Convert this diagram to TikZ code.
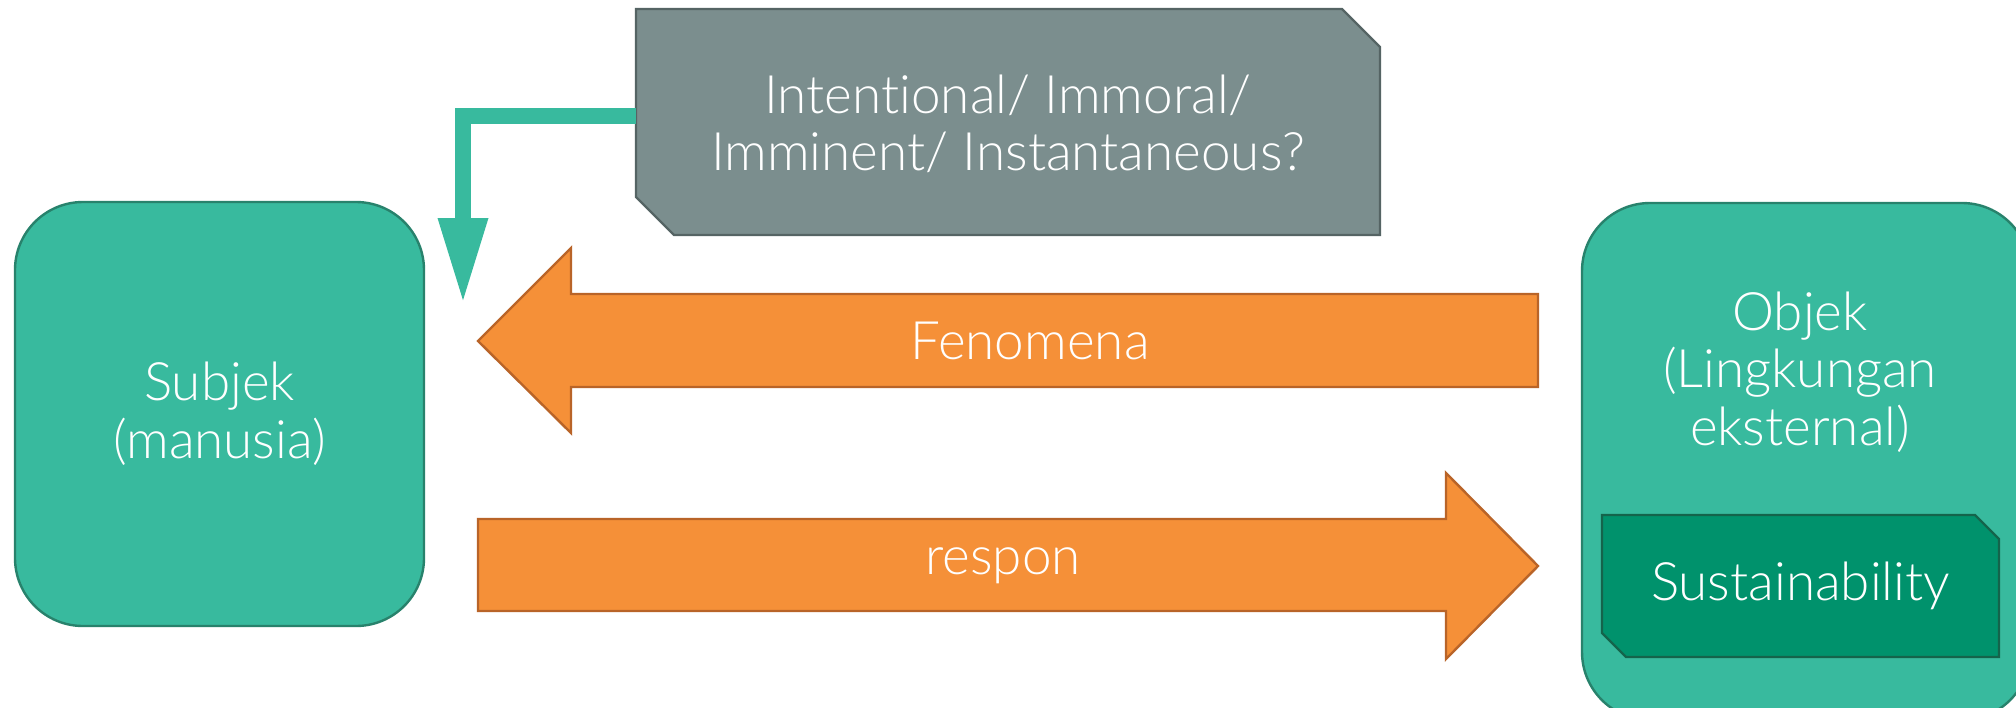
\documentclass[tikz,border=0pt]{standalone}
\usepackage{fontspec}
\setmainfont{Lato}[UprightFont=* Light, Ligatures=NoCommon]
\usetikzlibrary{arrows.meta}
\definecolor{tealF}{RGB}{56,186,158}
\definecolor{tealD}{RGB}{40,130,108}
\definecolor{grF}{RGB}{123,142,142}
\definecolor{grD}{RGB}{85,100,100}
\definecolor{orF}{RGB}{245,144,56}
\definecolor{orD}{RGB}{185,100,40}
\definecolor{susF}{RGB}{0,146,108}
\definecolor{susD}{RGB}{20,100,75}
\begin{document}
\begin{tikzpicture}[x=0.5pt,y=-0.5pt,
  txt/.style={text=white, font=\fontsize{26.5}{28.8}\selectfont, align=center, inner sep=0pt},
  tealbox/.style={fill=tealF, draw=tealD, line width=1.2pt, rounded corners=34pt, txt},
  orangeshape/.style={fill=orF, draw=orD, line width=1.2pt, line join=miter},
  grayshape/.style={fill=grF, draw=grD, line width=1.2pt},
  susshape/.style={fill=susF, draw=susD, line width=1.2pt},
  conn/.style={draw=tealF, line width=7.7pt, -{Triangle[width=23pt,length=43pt]}}
]
\path[use as bounding box, fill=white] (0,0) rectangle (2016,707);

% gray chamfered box
\path[grayshape] (636,9) -- (1342,9) -- (1380,47) -- (1380,235) -- (674,235) -- (636,197) -- cycle;
\node[txt, minimum width=372pt, minimum height=113pt] (gray) at (1008,124) {Intentional/ Immoral/\\Imminent/ Instantaneous?};

% subject box
\node[tealbox, minimum width=204.5pt, minimum height=212pt] (subj) at (219.5,414) {Subjek\\(manusia)};

% object box
\node[tealbox, minimum width=224pt, minimum height=258.5pt] (obj) at (1806,461.5) {};
\node[txt] (objtxt) at (1800,372) {Objek\\(Lingkungan\\eksternal)};

% sustainability box
\path[susshape] (1602,515) -- (1975,515) -- (1999,539) -- (1999,657) -- (1626,657) -- (1602,633) -- cycle;
\node[txt, minimum width=198.5pt, minimum height=71pt] (sus) at (1800.5,586) {Sustainability};

% Fenomena arrow
\path[orangeshape] (478,341) -- (571,248) -- (571,294) -- (1538,294) -- (1538,387) -- (571,387) -- (571,433) -- cycle;
\node[txt] (fen) at (1030,341) {Fenomena};

% respon arrow
\path[orangeshape] (478,519) -- (1446,519) -- (1446,473) -- (1538,566) -- (1446,659) -- (1446,611) -- (478,611) -- cycle;
\node[txt] (resp) at (1003,566) {respon};

% connector
\coordinate (tip) at (463,304);
\draw[conn] ([yshift=4pt]gray.west) -| (tip);
\end{tikzpicture}
\end{document}
